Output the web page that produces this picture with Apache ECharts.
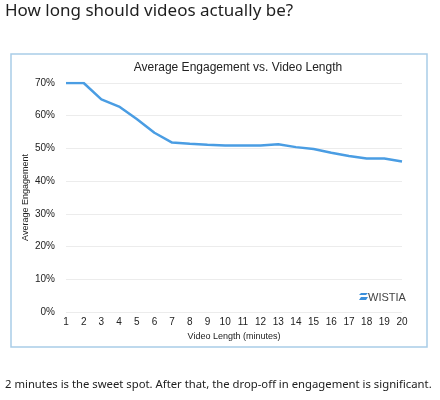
<!DOCTYPE html>
<html>
<head>
<meta charset="utf-8">
<script src="https://cdn.jsdelivr.net/npm/echarts@6/dist/echarts.min.js"></script>
<style>
html,body{margin:0;padding:0;background:#fff;}
#c{width:440px;height:400px;}
</style>
</head>
<body>
<div id="c"></div>
<script>
const minutes = ['1','2','3','4','5','6','7','8','9','10','11','12','13','14','15','16','17','18','19','20'];
const engagement = [70,70,65,62.8,59,54.8,51.8,51.4,51.1,50.9,50.9,50.9,51.3,50.4,49.8,48.7,47.7,46.9,46.9,46];
const yTicks = [0,10,20,30,40,50,60,70];

const chart = echarts.init(document.getElementById('c'), null, {renderer:'canvas'});
chart.setOption({
  animation:false,
  backgroundColor:'#fff',
  title:[
    {text:'Average Engagement vs. Video Length', left:233, top:57, textAlign:'center',
     textStyle:{fontFamily:'Liberation Sans, Arial, sans-serif', fontSize:12, fontWeight:'normal', color:'#222'}}
  ],
  graphic:[
    {type:'text', left:5, top:3, style:{text:'How long should videos actually be?', font:'17px "Noto Sans", sans-serif', fill:'#1e1e1e'}},
    {type:'rect', shape:{x:11, y:54, width:416, height:293}, style:{fill:'none', stroke:'#a9cde8', lineWidth:1.5}, z:-1},
    {type:'text', left:5, top:379, style:{text:'2 minutes is the sweet spot. After that, the drop-off in engagement is significant.', font:'11.3px "Noto Sans", sans-serif', fill:'#222'}},
    {type:'polygon', shape:{points:[[361,293],[368,293],[366,295],[359,295]]}, style:{fill:'#3b8fdb'}},
    {type:'polygon', shape:{points:[[361,297],[368,297],[366,300],[359,300]]}, style:{fill:'#3b8fdb'}},
    {type:'text', left:368, top:292, style:{text:'WISTIA', font:'11px "Liberation Sans", Arial, sans-serif', fill:'#444'}}
  ],
  grid:{left:66, right:38, top:83, bottom:88},
  xAxis:{
    type:'category', data:minutes, boundaryGap:false,
    name:'Video Length (minutes)', nameLocation:'middle', nameGap:20,
    nameTextStyle:{fontFamily:'Liberation Sans, Arial, sans-serif', fontSize:9, color:'#222'},
    axisLine:{show:false}, axisTick:{show:false},
    axisLabel:{margin:5, fontFamily:'Liberation Sans, Arial, sans-serif', fontSize:10, color:'#222', interval:0}
  },
  yAxis:{
    type:'value', min:yTicks[0], max:yTicks[yTicks.length-1], interval:10,
    name:'Average Engagement', nameLocation:'middle', nameGap:36, nameRotate:90, nameMoveOverlap:false,
    nameTextStyle:{fontFamily:'Liberation Sans, Arial, sans-serif', fontSize:9, color:'#222'},
    axisLine:{show:false}, axisTick:{show:false},
    axisLabel:{margin:11, formatter:'{value}%', fontFamily:'Liberation Sans, Arial, sans-serif', fontSize:10, color:'#222'},
    splitLine:{lineStyle:{color:'#ececec', width:1}}
  },
  series:[{
    type:'line', data:engagement, symbol:'none', smooth:false,
    lineStyle:{color:'#4a9de3', width:2.5}
  }]
});
</script>
</body>
</html>
